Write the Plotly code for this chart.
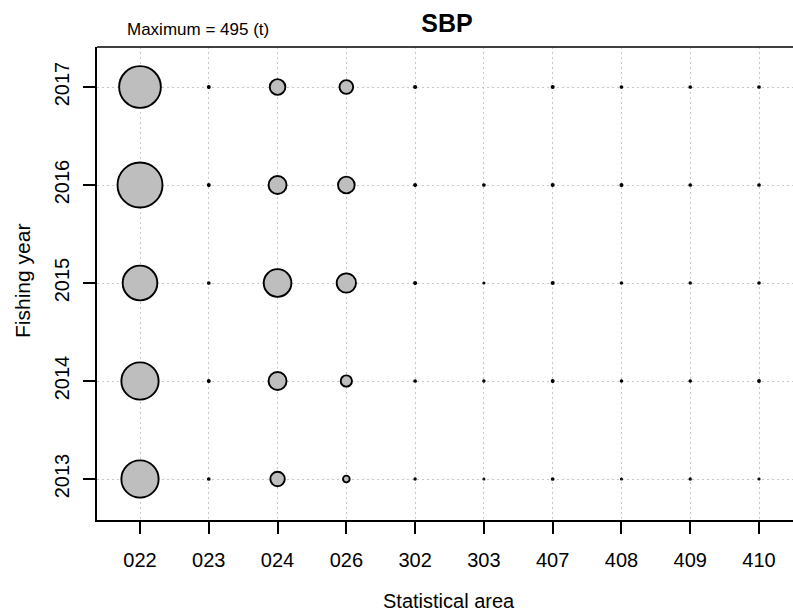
import plotly.graph_objects as go
import math

areas = ["022", "023", "024", "026", "302", "303", "407", "408", "409", "410"]
years = [2013, 2014, 2015, 2016, 2017]
catch_2013 = [340, 0.8, 51, 11, 0.5, 0.3, 0.8, 0.4, 0.5, 0.4]
catch_2014 = [340, 1.0, 79, 31, 0.8, 0.6, 1.0, 0.7, 0.7, 0.9]
catch_2015 = [294, 0.8, 187, 91, 1.0, 0.4, 1.2, 0.7, 0.6, 0.7]
catch_2016 = [495, 1.0, 79, 68, 1.0, 0.8, 1.2, 1.0, 0.8, 0.8]
catch_2017 = [426, 1.0, 60, 46, 1.2, 0.0, 1.2, 0.8, 0.8, 0.8]
catch_by_year = [catch_2013, catch_2014, catch_2015, catch_2016, catch_2017]

max_catch = max(max(r) for r in catch_by_year)

xs, ys, sizes = [], [], []
for yr, row in zip(years, catch_by_year):
    for a, v in zip(areas, row):
        if v > 0:
            xs.append(a)
            ys.append(yr)
            sizes.append(45 * math.sqrt(v / max_catch))

FONT = "Liberation Sans, Arial, sans-serif"
W, H = 793, 615
L, R, T, B = 97, 0, 47, 95
pw, ph = W - L - R, H - T - B

fig = go.Figure(go.Scatter(
    x=xs, y=ys, mode="markers",
    marker=dict(size=sizes, sizemode="diameter", color="#bebebe", opacity=1,
                line=dict(color="black", width=1.9)),
    hoverinfo="skip", cliponaxis=True,
))

fig.update_layout(
    width=W, height=H,
    margin=dict(l=L, r=R, t=T, b=B, autoexpand=False),
    paper_bgcolor="white", plot_bgcolor="white",
    showlegend=False,
    font=dict(family=FONT, color="black"),
    title=dict(text="<b>SBP</b>", x=447 / W, xanchor="center",
               y=1 - 23 / H, yanchor="middle",
               font=dict(size=25, family=FONT, color="black")),
)

fig.update_xaxes(
    type="category", categoryorder="array", categoryarray=areas,
    range=[-43 / 68.78, 653 / 68.78],
    showgrid=True, gridcolor="#c8c8c8", gridwidth=1, griddash="2px,3px",
    showline=True, linecolor="black", linewidth=1.6, mirror=False,
    ticks="outside", ticklen=12, tickwidth=1.6, tickcolor="black",
    tickfont=dict(size=20, family=FONT, color="black"),
    ticklabelstandoff=9,
    zeroline=False,
)
fig.update_yaxes(
    range=[2013 - 41 / 98, 2017 + 40 / 98],
    tickvals=years, ticktext=[str(y) for y in years],
    tickangle=-90,
    showgrid=True, gridcolor="#c8c8c8", gridwidth=1, griddash="2px,3px",
    showline=True, linecolor="black", linewidth=1.6, mirror=False,
    ticks="outside", ticklen=12, tickwidth=1.6, tickcolor="black",
    tickfont=dict(size=20, family=FONT, color="black"),
    ticklabelstandoff=6,
    zeroline=False,
)

# top frame line (R box; right edge lies outside the cropped picture)
fig.add_shape(type="line", xref="paper", yref="paper", x0=0, x1=1, y0=1, y1=1,
              line=dict(color="black", width=1.6))

fig.add_annotation(text="Maximum = 495 (t)", xref="paper", yref="paper",
                   x=(125 - L) / pw, y=(H - B - 29) / ph,
                   xanchor="left", yanchor="middle", showarrow=False,
                   font=dict(size=17, family=FONT, color="black"))
fig.add_annotation(text="Statistical area", xref="paper", yref="paper",
                   x=(449 - L) / pw, y=(H - B - 601) / ph,
                   xanchor="center", yanchor="middle", showarrow=False,
                   font=dict(size=20, family=FONT, color="black"))
fig.add_annotation(text="Fishing year", xref="paper", yref="paper",
                   x=(22 - L) / pw, y=(H - B - 281) / ph, textangle=-90,
                   xanchor="center", yanchor="middle", showarrow=False,
                   font=dict(size=21, family=FONT, color="black"))

fig.write_html("out.html")
